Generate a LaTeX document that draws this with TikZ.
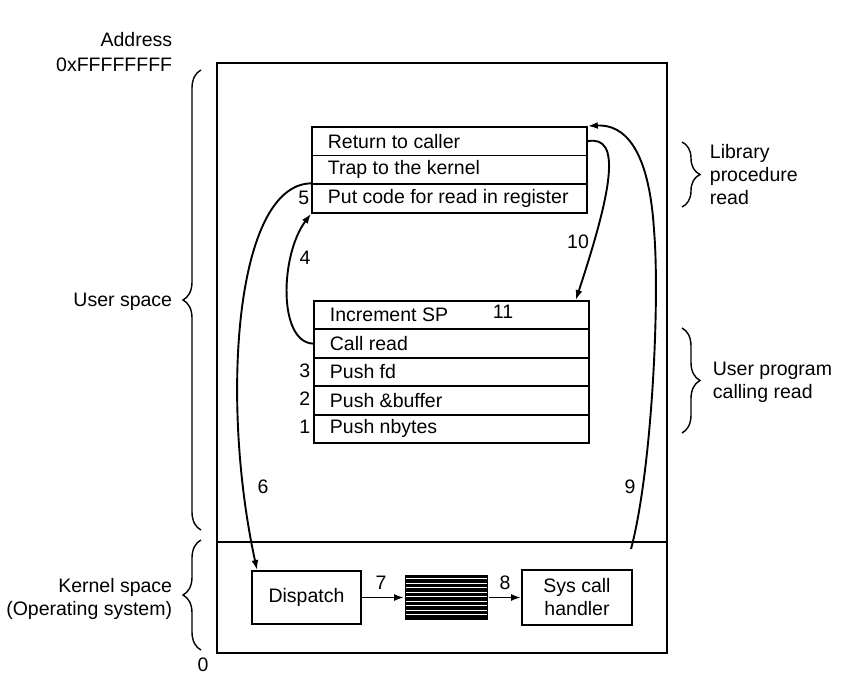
\documentclass[tikz,border=0pt]{standalone}
\usepackage{fontspec}
\setmainfont{Liberation Sans}
\usetikzlibrary{arrows.meta,decorations.pathreplacing}
\newcommand{\rtxt}[1]{\makebox[243pt][l]{#1}}
\begin{document}
\begin{tikzpicture}[x=1pt,y=-1pt,
  font=\fontsize{19.5}{23}\selectfont,
  line width=1.8pt,
  rowbox/.style={draw, line width=1.8pt, minimum width=275pt, minimum height=28.6pt,
    inner xsep=16pt, inner ysep=0pt, anchor=north west},
  kbox/.style={draw, line width=1.9pt, inner sep=0pt, align=center},
  lbl/.style={inner sep=2pt},
  conn/.style={line width=1.9pt, -{Latex[length=10pt,width=7pt]}},
  bracestyle/.style={line width=1.4pt, decorate, decoration={brace, amplitude=18pt}}
]
\useasboundingbox (0,0) rectangle (861,680);

% memory outline
\node[draw, line width=2.2pt, minimum width=450pt, minimum height=590pt, inner sep=0pt] (mem) at (442,358) {};
\coordinate (divL) at (217,542);
\coordinate (divR) at (667,542);
\draw[line width=1.9pt] (divL) -- (divR);

% library procedure rows
\node[rowbox] (l1) at (311,126) {\rtxt{Return to caller}};
\node[rowbox] (l2) at (311,154.67) {\rtxt{Trap to the kernel}};
\node[rowbox] (l3) at (311,183.33) {\rtxt{Put code for read in register}};

% user program rows
\node[rowbox] (u1) at (313,300) {\rtxt{Increment SP}};
\node[rowbox] (u2) at (313,328.4) {\rtxt{Call read}};
\node[rowbox] (u3) at (313,356.8) {\rtxt{Push fd}};
\node[rowbox] (u4) at (313,385.2) {\rtxt{Push \&buffer}};
\node[rowbox] (u5) at (313,413.6) {\rtxt{Push nbytes}};
\node[lbl] (n11) at (503,312) {11};

% kernel boxes
\node[kbox, minimum width=109pt, minimum height=53pt] (disp) at (306.5,597.5) {Dispatch};
\node[fill=black, minimum width=83pt, minimum height=45pt, inner sep=0pt] (hatch) at (446.5,597.5) {};
\foreach \k in {1,...,9}
  \draw[white, line width=0.8pt] ([xshift=2pt, yshift=-\k*4.5pt]hatch.north west) -- ([xshift=-2pt, yshift=-\k*4.5pt]hatch.north east);
\node[kbox, minimum width=110pt, minimum height=55pt] (sys) at (577,597.5) {Sys call\\handler};

% step numbers
\node[lbl, anchor=east] (n5) at (312,198) {5};
\node[lbl, anchor=east] (n3) at (313,371) {3};
\node[lbl, anchor=east] (n2) at (313,399) {2};
\node[lbl, anchor=east] (n1) at (313,427) {1};
\node[lbl] (n4) at (305,258) {4};
\node[lbl] (n10) at (578,242) {10};
\node[lbl] (n6) at (263,487) {6};
\node[lbl] (n9) at (630,487) {9};
\node[lbl] (n7) at (381,583) {7};
\node[lbl] (n8) at (505,583) {8};

% connectors
\coordinate (c6) at ([xshift=6pt]disp.north west);
\coordinate (c10) at ([xshift=-14pt]u1.north east);
\coordinate (c9) at (631,549);
\coordinate (c9m) at (654,230);

\draw[conn] (u2.west) .. controls (278,342) and (280,255) .. (l3.south west);
\draw[conn] (l3.north west) .. controls (235,185) and (220,400) .. (c6);
\draw[conn] (disp.east) -- (hatch.west);
\draw[conn] (hatch.east) -- (sys.west);
\draw[conn] (c9) .. controls (652,470) and (660,300) .. (c9m) .. controls (649,150) and (625,124) .. (l1.north east);
\draw[conn] (l1.east) .. controls (622,135) and (612,190) .. (c10);

% left labels and braces
\node[lbl, anchor=east] (addr) at (175,40) {Address};
\node[lbl, anchor=east] (ffff) at (175,65) {0xFFFFFFFF};
\node[lbl, anchor=east] (uspace) at (175,302) {User space};
\node[lbl, anchor=east, align=right] (kspace) at (175,599) {Kernel space\\(Operating system)};
\node[lbl] (zero) at (203,665) {0};
\coordinate (ubA) at (201,530);
\coordinate (ubB) at (201,70);
\coordinate (kbA) at (201,650);
\coordinate (kbB) at (201,540);
\draw[bracestyle] (ubA) -- (ubB);
\draw[bracestyle] (kbA) -- (kbB);

% right labels and braces
\coordinate (lbA) at (682,142);
\coordinate (lbB) at (682,207);
\coordinate (pbA) at (682,328);
\coordinate (pbB) at (682,433);
\draw[bracestyle] (lbA) -- (lbB);
\draw[bracestyle] (pbA) -- (pbB);
\node[lbl, anchor=west, align=left] (libtxt) at (707,175) {Library\\procedure\\read};
\node[lbl, anchor=west, align=left] (usrtxt) at (710,382) {User program\\calling read};
\end{tikzpicture}
\end{document}
